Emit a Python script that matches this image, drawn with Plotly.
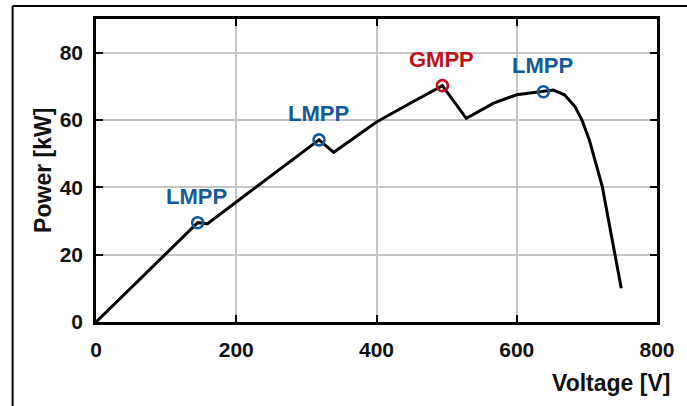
import plotly.graph_objects as go

# P-V characteristic of the PV array under partial shading
voltage_v = [0, 145, 159, 318, 339, 372, 400, 450, 494, 528, 567, 600, 638,
             652, 668, 683, 693, 703.5, 722, 736.5, 749]
power_kw = [0, 29.5, 29.2, 54.1, 50.4, 55.3, 59.4, 65.2, 70.2, 60.5, 65.0, 67.5, 68.4,
            68.9, 67.5, 64.0, 60.0, 54.1, 40.2, 24.4, 10.0]

# Maximum power points
mpp_labels = ["LMPP", "LMPP", "GMPP", "LMPP"]
mpp_voltage = [145, 318, 494, 638]
mpp_power = [29.5, 54.1, 70.2, 68.4]

x_ticks = [0, 200, 400, 600, 800]
y_ticks = [0, 20, 40, 60, 80]

BLUE = "#155a96"
RED = "#c0101a"
FONT = "Liberation Sans, Arial, sans-serif"

W, H = 687, 406
ML, MR, MT, MB = 96, 26, 19, 84
PW, PH = W - ML - MR, H - MT - MB


def px_x(px):
    return (px - ML) / PW


def px_y(py):
    return (H - MB - py) / PH


fig = go.Figure()

fig.add_trace(go.Scatter(
    x=voltage_v, y=power_kw, mode="lines",
    line=dict(color="black", width=3),
    hoverinfo="skip", showlegend=False,
))

mpp_colors = [RED if lab == "GMPP" else BLUE for lab in mpp_labels]
fig.add_trace(go.Scatter(
    x=mpp_voltage, y=mpp_power, mode="markers",
    marker=dict(symbol="circle-open", size=11, color=mpp_colors,
                line=dict(width=2.6, color=mpp_colors)),
    showlegend=False,
))

annotations = []
for lab, v, p, c in zip(mpp_labels, mpp_voltage, mpp_power, mpp_colors):
    annotations.append(dict(
        x=v, y=p, xref="x", yref="y", text=f"<b>{lab}</b>",
        showarrow=False, xanchor="center", yanchor="middle",
        xshift=-1, yshift=26,
        font=dict(family=FONT, size=22, color=c),
    ))

annotations.append(dict(
    x=px_x(676), y=px_y(383), xref="paper", yref="paper",
    text="<b>Voltage [V]</b>", showarrow=False,
    xanchor="right", yanchor="middle",
    font=dict(family=FONT, size=23, color="#111111"),
))
annotations.append(dict(
    x=px_x(42), y=0.5, xref="paper", yref="paper",
    text="<b>Power [kW]</b>", showarrow=False, textangle=-90,
    xanchor="center", yanchor="middle",
    font=dict(family=FONT, size=23, color="#111111"),
))

axis_common = dict(
    showgrid=True, gridcolor="#c4c4c4", gridwidth=2,
    zeroline=False, showline=True, linecolor="black", linewidth=2.6,
    mirror="allticks", ticks="inside", ticklen=7, tickwidth=2.4,
    tickcolor="black",
    tickfont=dict(family=FONT, size=21, color="#111111"),
)

fig.update_xaxes(range=[0, 800], tickvals=x_ticks,
                 ticktext=[f"<b>{t}</b>" for t in x_ticks],
                 ticklabelstandoff=7, **axis_common)
fig.update_yaxes(range=[0, 90], tickvals=y_ticks,
                 ticktext=[f"<b>{t}</b>" for t in y_ticks],
                 ticklabelstandoff=6, **axis_common)

# outer frame (left and top edges)
shapes = [
    dict(type="line", xref="paper", yref="paper",
         x0=px_x(12), x1=px_x(W + 5), y0=px_y(6), y1=px_y(6),
         line=dict(color="black", width=2)),
    dict(type="line", xref="paper", yref="paper",
         x0=px_x(12), x1=px_x(12), y0=px_y(6), y1=px_y(H + 5),
         line=dict(color="black", width=2)),
]

fig.update_layout(
    width=W, height=H,
    margin=dict(l=ML, r=MR, t=MT, b=MB, pad=0),
    paper_bgcolor="white", plot_bgcolor="white",
    annotations=annotations, shapes=shapes,
    showlegend=False,
)

fig.write_html("out.html")
